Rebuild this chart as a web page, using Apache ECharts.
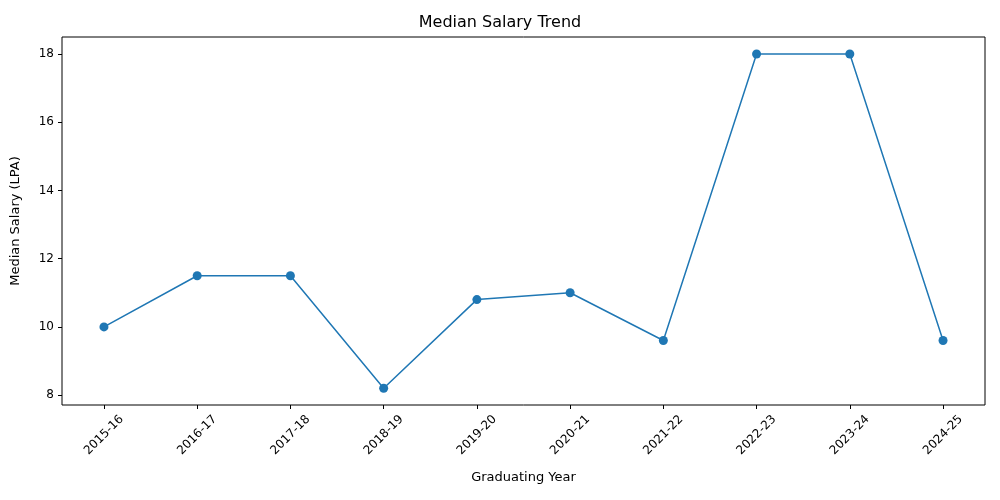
<!DOCTYPE html>
<html>
<head>
<meta charset="utf-8">
<script src="https://cdn.jsdelivr.net/npm/echarts@6/dist/echarts.min.js"></script>
<style>html,body{margin:0;padding:0;background:#fff}#chart{width:1000px;height:500px}</style>
</head>
<body>
<div id="chart"></div>
<script>
// graduating years and median salary (LPA)
var years = ['2015-16','2016-17','2017-18','2018-19','2019-20','2020-21','2021-22','2022-23','2023-24','2024-25'];
var salary = [10, 11.5, 11.5, 8.2, 10.8, 11, 9.6, 18, 18, 9.6];
var yTicks = [8, 10, 12, 14, 16, 18];

var idx = years.map(function (y, i) { return i; });
var points = salary.map(function (v, i) { return [i, v]; });

var myChart = echarts.init(document.getElementById('chart'));
var font = 'DejaVu Sans';
var option = {
	animation: false,
	title: {
		text: 'Median Salary Trend',
		left: 'center', top: 10,
		textStyle: { fontFamily: font, fontSize: 16, fontWeight: 'normal', color: '#000' }
	},
	grid: { left: 62, right: 15, top: 37, bottom: 95, show: true, borderColor: '#000', borderWidth: 1 },
	xAxis: {
		type: 'value', min: -0.45, max: 9.45,
		name: 'Graduating Year', nameLocation: 'middle', nameGap: 66,
		nameTextStyle: { fontFamily: font, fontSize: 13, color: '#000' },
		axisLine: { show: false, onZero: false },
		splitLine: { show: false },
		axisTick: { show: true, customValues: idx, length: 4, lineStyle: { color: '#000' } },
		axisLabel: {
			customValues: idx, rotate: 45, align: 'center', verticalAlign: 'middle',
			fontFamily: font, fontSize: 12, color: '#000', margin: 30,
			formatter: function (v) { return years[Math.round(v)]; }
		}
	},
	yAxis: {
		type: 'value', min: 7.71, max: 18.5,
		name: 'Median Salary (LPA)', nameLocation: 'middle', nameGap: 40,
		nameTextStyle: { fontFamily: font, fontSize: 13, color: '#000' },
		axisLine: { show: false, onZero: false },
		splitLine: { show: false },
		axisTick: { show: true, customValues: yTicks, length: 4, lineStyle: { color: '#000' } },
		axisLabel: { customValues: yTicks, fontFamily: font, fontSize: 12, color: '#000' }
	},
	series: [{
		type: 'line',
		data: points,
		symbol: 'circle', symbolSize: 9,
		lineStyle: { color: '#1f77b4', width: 1.5 },
		itemStyle: { color: '#1f77b4' }
	}]
};
myChart.setOption(option);
</script>
</body>
</html>
